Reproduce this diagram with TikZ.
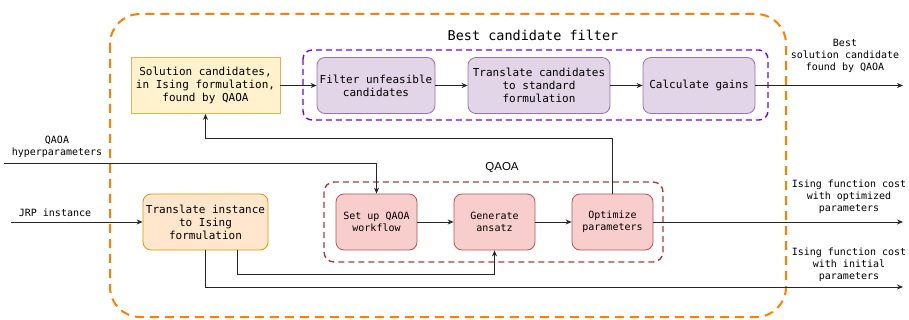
\documentclass[tikz,border=0pt]{standalone}
\usepackage{fontspec}
\setmonofont{DejaVu Sans Mono}
\setsansfont{Liberation Sans}
\usetikzlibrary{arrows.meta}

\definecolor{grpOrange}{HTML}{FF8000}
\definecolor{grpPurple}{HTML}{7A00E6}
\definecolor{grpRed}{HTML}{B5373C}
\definecolor{yelFill}{HTML}{FFF2CC}
\definecolor{yelLine}{HTML}{D6B656}
\definecolor{purFill}{HTML}{E1D5E7}
\definecolor{purLine}{HTML}{9673A6}
\definecolor{redFill}{HTML}{F8CECC}
\definecolor{redLine}{HTML}{B85450}
\definecolor{orFill}{HTML}{FFE6CC}
\definecolor{orLine}{HTML}{D79B00}

\tikzset{
  box/.style={draw, line width=0.8pt, minimum height=56pt, inner sep=1pt,
    align=center, font=\ttfamily\fontsize{11}{13}\selectfont},
  smallbox/.style={box, font=\ttfamily\fontsize{10}{12}\selectfont},
  candbox/.style={box, fill=yelFill, draw=yelLine},
  filtbox/.style={box, rounded corners=8pt, fill=purFill, draw=purLine},
  qaoabox/.style={smallbox, rounded corners=8pt, fill=redFill, draw=redLine},
  instbox/.style={box, rounded corners=8pt, fill=orFill, draw=orLine},
  lbl/.style={align=center, inner sep=0pt, font=\ttfamily\fontsize{10}{12}\selectfont},
  conn/.style={line width=0.9pt, draw=black!85, -{Stealth[length=6pt,width=5pt]}},
}

\begin{document}
\begin{tikzpicture}[x=1pt, y=-1pt]
  \useasboundingbox (0,0) rectangle (909,320);

  % outer group: best candidate filter
  \draw[grpOrange, line width=2pt, dash pattern=on 9pt off 6pt, rounded corners=30pt]
    (110,14) rectangle (786,317);
  \node[font=\ttfamily\fontsize{13.5}{15}\selectfont] (bcftitle) at (533,35) {Best candidate filter};

  % inner group: filtering stages
  \draw[grpPurple, line width=1.4pt, dash pattern=on 6pt off 4pt, rounded corners=9pt]
    (303,50) rectangle (768,120);

  % inner group: QAOA
  \draw[grpRed, line width=1.4pt, dash pattern=on 6pt off 4pt, rounded corners=10pt]
    (324,182) rectangle (663,262);
  \node[font=\sffamily\fontsize{11.5}{13}\selectfont] (qaoatitle) at (502,168) {QAOA};

  % top row
  \node[candbox, minimum width=149pt] (sol) at (205.5,85.5)
    {Solution candidates,\\in Ising formulation,\\found by QAOA};
  \node[filtbox, minimum width=118pt] (filt) at (376,85.5) {Filter unfeasible\\candidates};
  \node[filtbox, minimum width=142pt] (trc) at (539,85.5) {Translate candidates\\to standard\\formulation};
  \node[filtbox, minimum width=112pt] (calc) at (699,85.5) {Calculate gains};

  % bottom row
  \node[instbox, minimum width=125pt] (tri) at (205.5,222) {Translate instance\\to Ising\\formulation};
  \node[qaoabox, minimum width=81pt] (setup) at (376.5,222) {Set up QAOA\\workflow};
  \node[qaoabox, minimum width=81pt] (gen) at (494.5,222) {Generate\\ansatz};
  \node[qaoabox, minimum width=81pt] (opt) at (612.5,222) {Optimize\\parameters};

  % free ends of connectors
  \coordinate (bestout) at (903,85.5);
  \coordinate (optout) at (903,222);
  \coordinate (initout) at (903,287);
  \coordinate (hpin) at (4,163);
  \coordinate (jrpin) at (11,222);
  \coordinate (fb) at (0,138);
  \coordinate (ansin) at (237,274);

  % connectors
  \draw[conn] (sol.east) -- (filt.west);
  \draw[conn] (filt.east) -- (trc.west);
  \draw[conn] (trc.east) -- (calc.west);
  \draw[conn] (calc.east) -- (bestout);
  \draw[conn] (opt.north) -- (opt.north |- fb) -| (sol.south);
  \draw[conn] (hpin) -| (setup.north);
  \draw[conn] (jrpin) -- (tri.west);
  \draw[conn] (setup.east) -- (gen.west);
  \draw[conn] (gen.east) -- (opt.west);
  \draw[conn] (opt.east) -- (optout);
  \draw[conn] (tri.south -| ansin) -- (ansin) -| (gen.south);
  \draw[conn] (tri.south) |- (initout);

  % labels
  \node[lbl] (bestlbl) at (845,56) {Best\\solution candidate\\found by QAOA};
  \node[lbl] (hplbl) at (57,147) {QAOA\\hyperparameters};
  \node[lbl] (jrplbl) at (55,213) {JRP instance};
  \node[lbl] (optlbl) at (849,197) {Ising function cost\\with optimized\\parameters};
  \node[lbl] (initlbl) at (849,265) {Ising function cost\\with initial\\parameters};
\end{tikzpicture}
\end{document}
